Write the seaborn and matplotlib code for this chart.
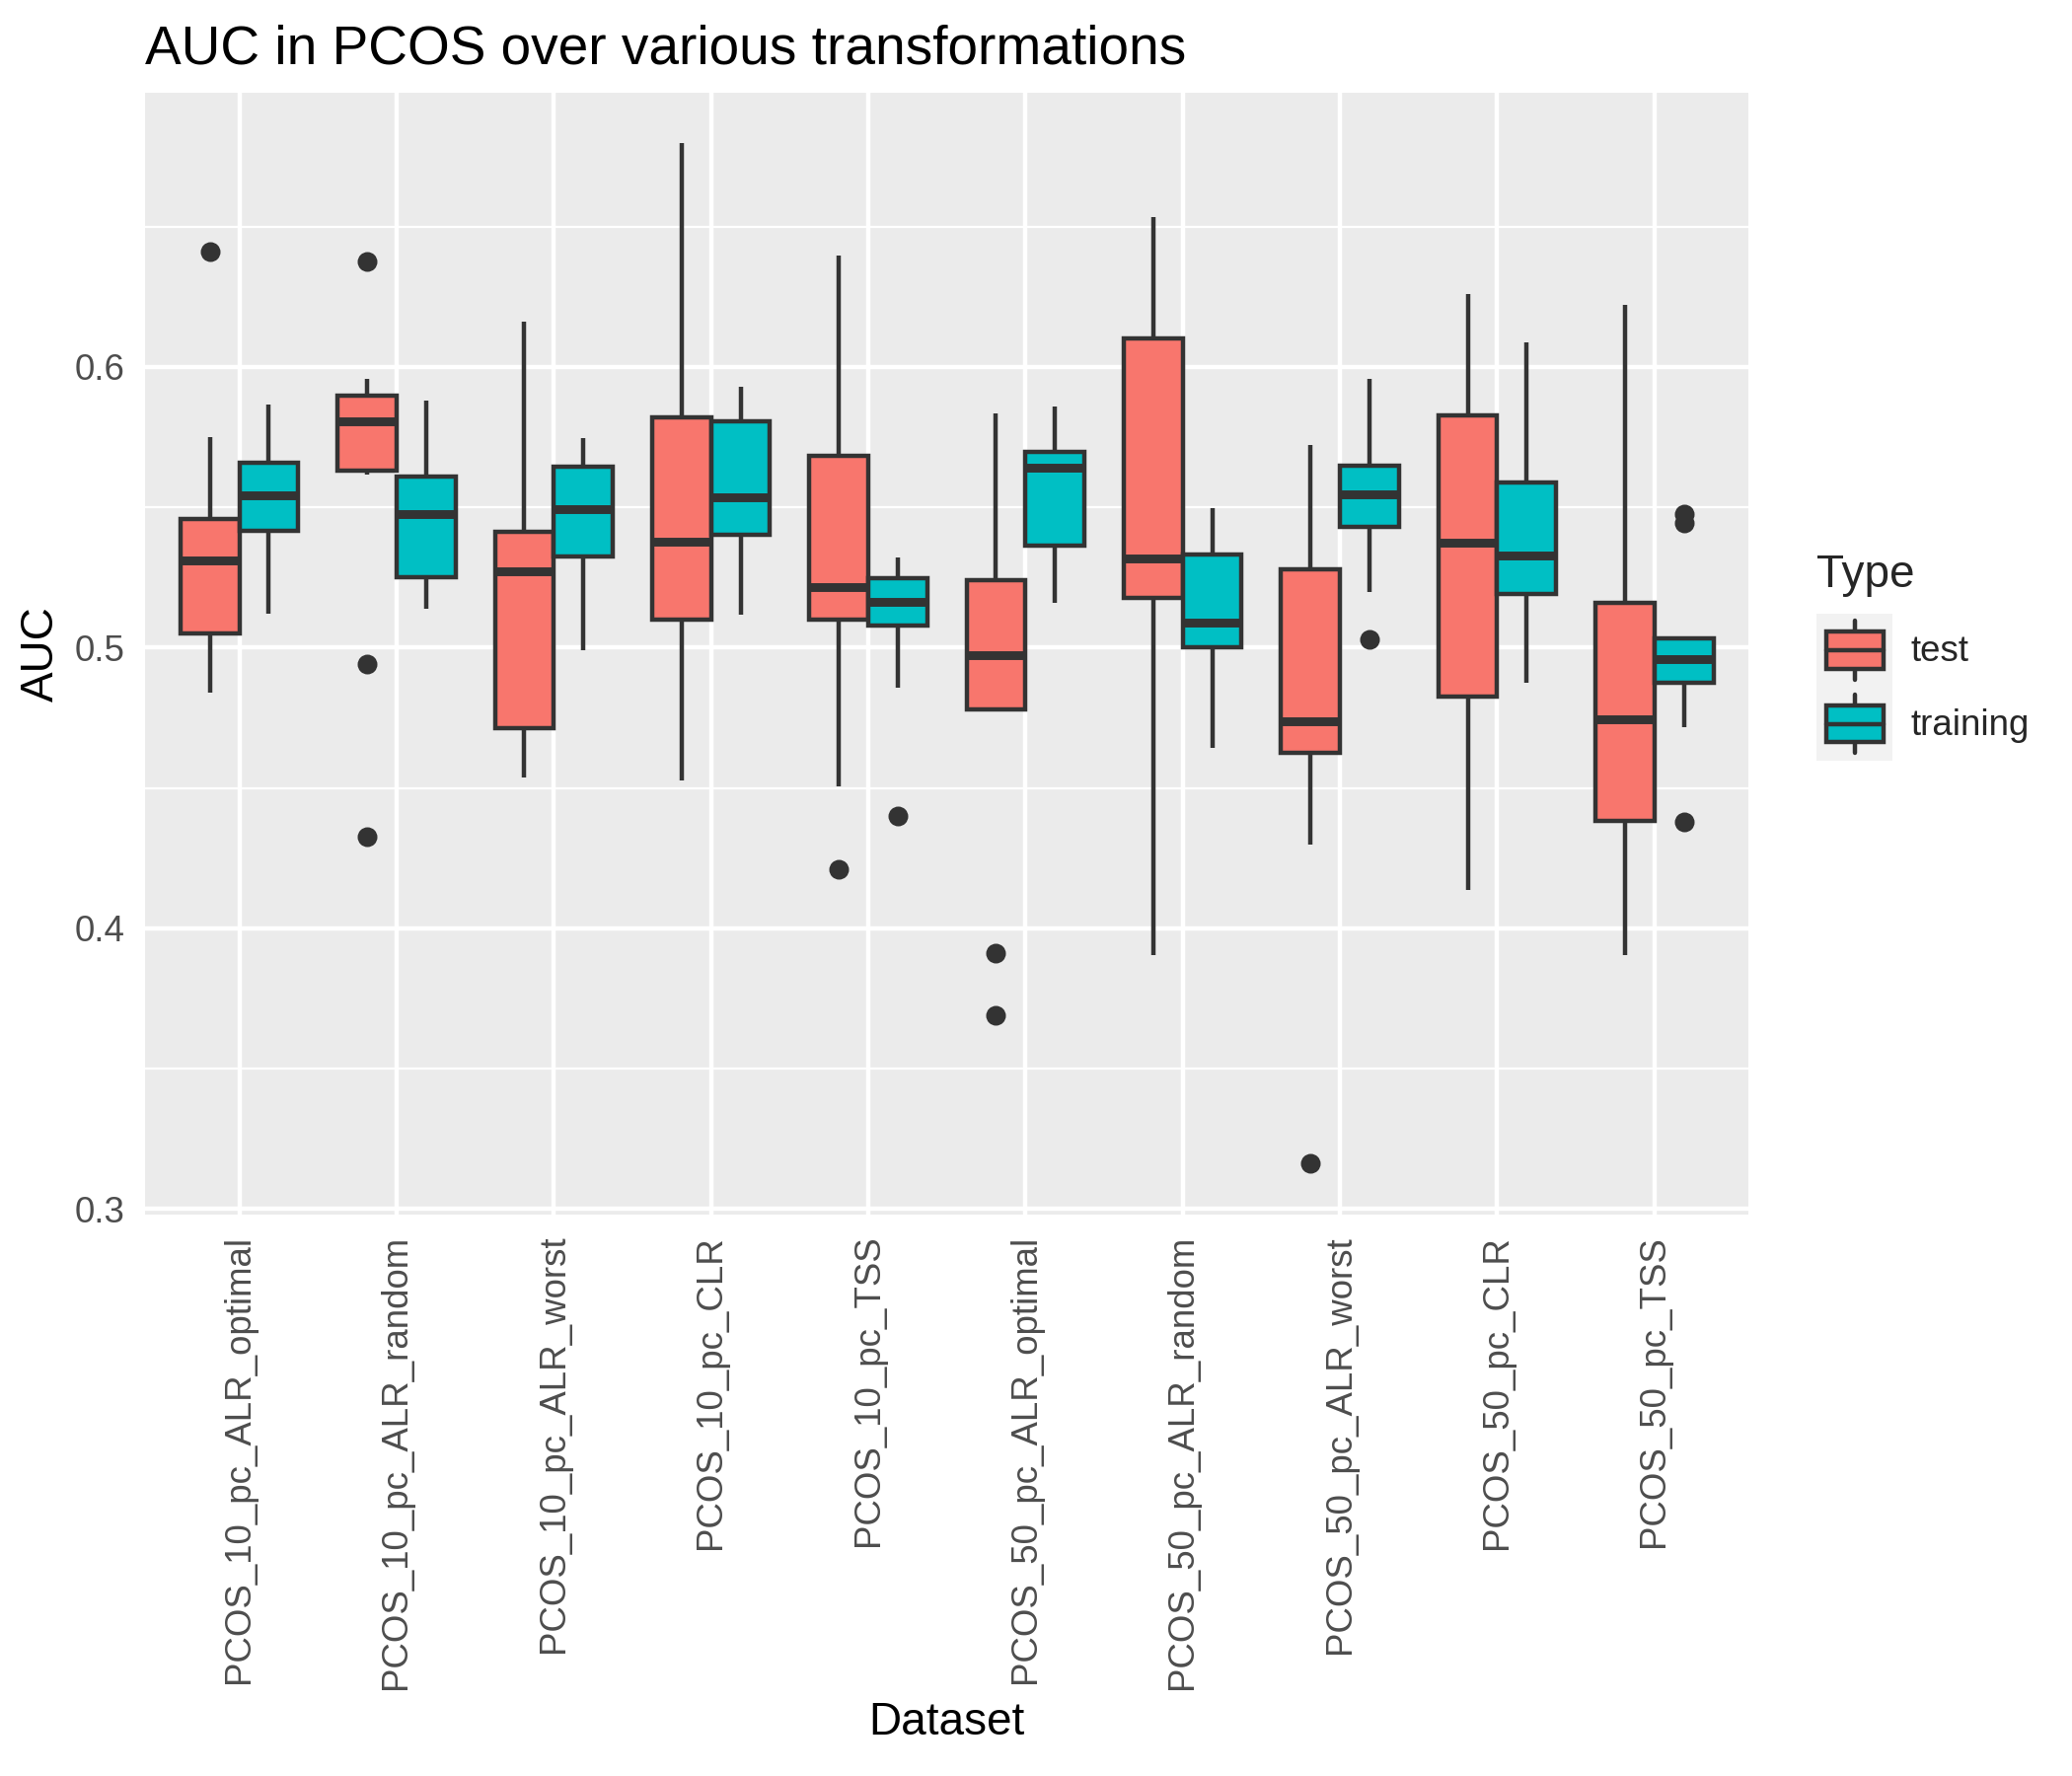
import matplotlib

matplotlib.use("Agg")

import matplotlib.pyplot as plt
import pandas as pd
import seaborn as sns
from matplotlib.legend_handler import HandlerBase
from matplotlib.lines import Line2D
from matplotlib.patches import Patch
from matplotlib.patches import Rectangle
from matplotlib.ticker import FixedLocator

# datasets on the x axis, in plot order
datasets = [
    "PCOS_10_pc_ALR_optimal",
    "PCOS_10_pc_ALR_random",
    "PCOS_10_pc_ALR_worst",
    "PCOS_10_pc_CLR",
    "PCOS_10_pc_TSS",
    "PCOS_50_pc_ALR_optimal",
    "PCOS_50_pc_ALR_random",
    "PCOS_50_pc_ALR_worst",
    "PCOS_50_pc_CLR",
    "PCOS_50_pc_TSS",
]
types = ["test", "training"]

test_auc = [
    [0.484, 0.492, 0.499, 0.505, 0.514, 0.523, 0.531, 0.536, 0.541, 0.546, 0.558, 0.575, 0.641],
    [0.4325, 0.494, 0.5616, 0.5632, 0.570, 0.576, 0.5806, 0.584, 0.587, 0.5899, 0.593, 0.5959, 0.6376],
    [0.4538, 0.460, 0.466, 0.4713, 0.490, 0.510, 0.5273, 0.532, 0.537, 0.5413, 0.560, 0.585, 0.6161],
    [0.4527, 0.475, 0.495, 0.5101, 0.520, 0.530, 0.5378, 0.555, 0.570, 0.5821, 0.610, 0.640, 0.6797],
    [0.421, 0.4505, 0.480, 0.5101, 0.515, 0.519, 0.5217, 0.535, 0.550, 0.5682, 0.590, 0.615, 0.6396],
    [0.3689, 0.3911, 0.478, 0.478, 0.485, 0.492, 0.4974, 0.506, 0.515, 0.524, 0.540, 0.560, 0.5835],
    [0.3904, 0.450, 0.495, 0.5176, 0.522, 0.527, 0.5318, 0.560, 0.585, 0.6103, 0.625, 0.640, 0.6536],
    [0.3161, 0.430, 0.448, 0.4625, 0.466, 0.470, 0.4739, 0.495, 0.512, 0.528, 0.545, 0.560, 0.5723],
    [0.4138, 0.440, 0.462, 0.4827, 0.500, 0.520, 0.5375, 0.550, 0.565, 0.5828, 0.598, 0.612, 0.6261],
    [0.3904, 0.410, 0.425, 0.4383, 0.452, 0.464, 0.4745, 0.490, 0.503, 0.5161, 0.555, 0.590, 0.6223],
]
training_auc = [
    [0.512, 0.525, 0.535, 0.5415, 0.546, 0.551, 0.5544, 0.559, 0.563, 0.5659, 0.572, 0.579, 0.5865],
    [0.5138, 0.518, 0.522, 0.525, 0.533, 0.541, 0.5476, 0.552, 0.557, 0.5608, 0.568, 0.578, 0.5882],
    [0.4991, 0.512, 0.524, 0.5325, 0.538, 0.544, 0.5494, 0.554, 0.559, 0.5645, 0.568, 0.571, 0.5747],
    [0.5116, 0.525, 0.534, 0.5402, 0.545, 0.549, 0.5535, 0.563, 0.572, 0.5808, 0.585, 0.589, 0.593],
    [0.4402, 0.4859, 0.498, 0.508, 0.511, 0.514, 0.5162, 0.519, 0.522, 0.5246, 0.527, 0.530, 0.5321],
    [0.5159, 0.524, 0.531, 0.5364, 0.548, 0.558, 0.5643, 0.566, 0.568, 0.5697, 0.575, 0.580, 0.5859],
    [0.4644, 0.480, 0.492, 0.5003, 0.503, 0.506, 0.5091, 0.517, 0.525, 0.5332, 0.539, 0.544, 0.5497],
    [0.5029, 0.5199, 0.532, 0.5432, 0.547, 0.551, 0.5548, 0.558, 0.561, 0.565, 0.575, 0.585, 0.5959],
    [0.4874, 0.500, 0.510, 0.5193, 0.524, 0.529, 0.533, 0.542, 0.550, 0.5589, 0.575, 0.592, 0.6088],
    [0.4379, 0.4716, 0.480, 0.4874, 0.490, 0.493, 0.4959, 0.499, 0.502, 0.5034, 0.5034, 0.5445, 0.5475],
]
y_ticks = [0.3, 0.4, 0.5, 0.6]
y_minor = [0.35, 0.45, 0.55, 0.65]

FILL = {"test": "#F8766D", "training": "#00BFC4"}
LINE_COLOR = "#333333"
LINE_W = 1.07


class BoxKeyHandler(HandlerBase):
    # ggplot-like boxplot legend key
    def create_artists(self, legend, orig_handle, xdescent, ydescent, width, height, fontsize, trans):
        x0, y0 = -xdescent, -ydescent
        cx = x0 + width / 2
        bg = Rectangle((x0, y0), width, height, facecolor="#F2F2F2", edgecolor="none", transform=trans)
        whisk = Line2D([cx, cx], [y0 + 0.1 * height, y0 + 0.9 * height],
                       color=LINE_COLOR, lw=LINE_W, transform=trans)
        box = Rectangle((x0 + 0.125 * width, y0 + 0.25 * height), 0.75 * width, 0.5 * height,
                        facecolor=orig_handle.get_facecolor(), edgecolor=LINE_COLOR,
                        lw=LINE_W, transform=trans)
        med = Line2D([x0 + 0.125 * width, x0 + 0.875 * width], [y0 + 0.5 * height] * 2,
                     color=LINE_COLOR, lw=LINE_W, transform=trans)
        return [bg, whisk, box, med]


rows = []
for name, values in zip(datasets, test_auc):
    rows += [(name, "test", v) for v in values]
for name, values in zip(datasets, training_auc):
    rows += [(name, "training", v) for v in values]
df = pd.DataFrame(rows, columns=["Dataset", "Type", "AUC"])

sns.set_theme(style="darkgrid")
plt.rcParams["font.family"] = ["Liberation Sans", "DejaVu Sans"]

fig = plt.figure(figsize=(7, 6), dpi=300)
ax = fig.add_axes([0.070, 0.316, 0.774, 0.632])
ax.set_facecolor("#EBEBEB")

sns.boxplot(
    data=df, x="Dataset", y="AUC", hue="Type",
    order=datasets, hue_order=types, palette=FILL,
    width=0.75, gap=0, saturation=1, whis=1.5,
    linecolor=LINE_COLOR, linewidth=LINE_W,
    medianprops={"linewidth": LINE_W * 2, "color": LINE_COLOR},
    capprops={"visible": False},
    flierprops={"marker": "o", "markerfacecolor": LINE_COLOR, "markeredgecolor": LINE_COLOR,
                "markersize": 4.4, "markeredgewidth": 0.4},
    legend=False, ax=ax, zorder=3,
)

# ggplot-style scale expansion
all_vals = df["AUC"].to_numpy()
span = all_vals.max() - all_vals.min()
ax.set_ylim(all_vals.min() - 0.05 * span, all_vals.max() + 0.05 * span)
ax.set_xlim(-0.6, len(datasets) - 0.4)

ax.yaxis.set_major_locator(FixedLocator(y_ticks))
ax.yaxis.set_minor_locator(FixedLocator(y_minor))
ax.set_yticklabels([f"{t:.1f}" for t in y_ticks])
ax.grid(False)
ax.grid(True, which="major", axis="both", color="white", lw=LINE_W, zorder=0)
ax.grid(True, which="minor", axis="y", color="white", lw=LINE_W / 2, zorder=0)
ax.set_axisbelow(True)
for spine in ax.spines.values():
    spine.set_visible(False)

ax.tick_params(axis="both", which="major", length=2.75, width=LINE_W, color=LINE_COLOR,
               labelsize=8.8, labelcolor="#4D4D4D", pad=2.2)
ax.tick_params(axis="y", which="minor", length=0)
ax.tick_params(axis="x", labelrotation=90)

ax.set_xlabel("Dataset", fontsize=11, color="black", labelpad=2.75)
ax.set_ylabel("AUC", fontsize=11, color="black", labelpad=2.75)
ax.set_title("AUC in PCOS over various transformations", loc="left", fontsize=13.2,
             color="black", pad=7)

handles = [Patch(facecolor=FILL[t]) for t in types]
leg = fig.legend(
    handles, types, title="Type", handler_map={Patch: BoxKeyHandler()},
    loc="center left", bbox_to_anchor=(0.868, 0.630), frameon=False,
    fontsize=8.8, title_fontsize=11, handlelength=2.1, handleheight=2.75,
    handletextpad=0.5, labelspacing=0.0, borderpad=0, alignment="left",
)
# a little room between the legend title and the keys
leg._legend_box.sep = 4

fig.savefig("out.png", dpi=300, facecolor="white")
